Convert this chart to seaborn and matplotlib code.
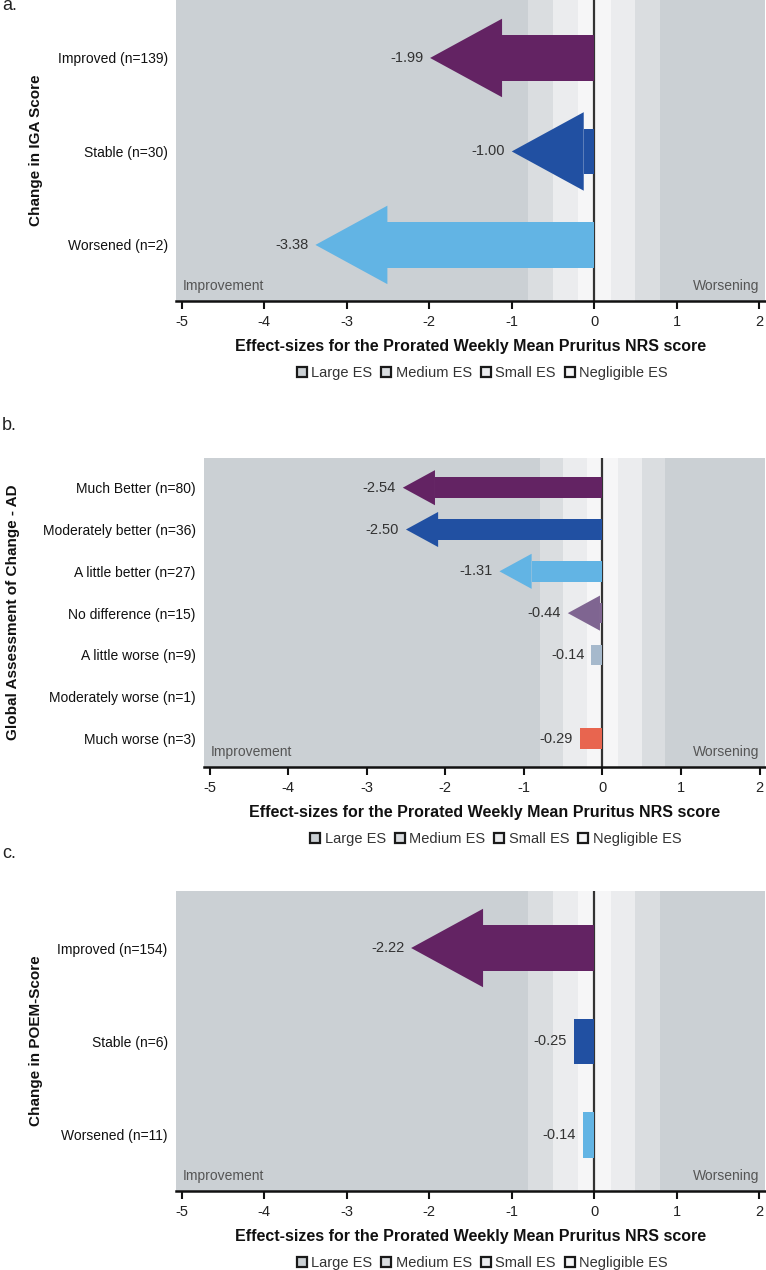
import numpy as np
import pandas as pd
import seaborn as sns
import matplotlib.pyplot as plt
from matplotlib.patches import Patch, Polygon

# Panel a: change in IGA score
iga_labels = ['Improved (n=139)', 'Stable (n=30)', 'Worsened (n=2)']
iga_es = [-1.99, -1.00, -3.38]

# Panel b: global assessment of change
gac_labels = ['Much Better (n=80)', 'Moderately better (n=36)', 'A little better (n=27)',
              'No difference (n=15)', 'A little worse (n=9)', 'Moderately worse (n=1)',
              'Much worse (n=3)']
gac_es = [-2.54, -2.50, -1.31, -0.44, -0.14, np.nan, -0.29]

# Panel c: change in POEM score
poem_labels = ['Improved (n=154)', 'Stable (n=6)', 'Worsened (n=11)']
poem_es = [-2.22, -0.25, -0.14]

# effect size bands
es_names = ['Large ES', 'Medium ES', 'Small ES', 'Negligible ES']
es_bounds = [0.8, 0.5, 0.2]

three_colors = ['#632363', '#2150a2', '#62b4e4']
seven_colors = ['#632363', '#2150a2', '#62b4e4', '#7f6591', '#a6b9cc', '#cccccc', '#e8654f']
band_colors = ['#cbd0d4', '#dadde0', '#ebecee', '#f6f6f7']

XLABEL = 'Effect-sizes for the Prorated Weekly Mean Pruritus NRS score'

sns.set_theme(style='white')
plt.rcParams['font.family'] = ['Liberation Sans', 'DejaVu Sans']
plt.rcParams['axes.unicode_minus'] = False

W, H = 766, 1270
fig = plt.figure(figsize=(W / 100, H / 100), dpi=100)


def draw_panel(rect, labels, es, colors, ylabel, ylim, ylabel_x):
    left, top, width, height = rect
    ax = fig.add_axes([left / W, 1 - (top + height) / H, width / W, height / H])
    xlim = (-5.07, 2.07)
    ax.set_xlim(xlim)
    ax.set_ylim(ylim)

    # background bands
    ax.axvspan(-10, 10, color=band_colors[0], lw=0, zorder=0)
    for b, c in zip(es_bounds, band_colors[1:]):
        ax.axvspan(-b, b, color=c, lw=0, zorder=0)
    ax.axvline(0, color='#333333', lw=1.6, zorder=1)

    # arrow head size, follows the row pitch in pixels
    row_px = height / abs(ylim[0] - ylim[1])
    unit_px = width / (xlim[1] - xlim[0])
    head_len = 0.77 * row_px / unit_px
    head_h = 0.84

    df = pd.DataFrame({'group': labels, 'es': es})
    df['shaft'] = np.where(df['es'].abs() >= head_len, df['es'] + head_len, df['es'])
    df['shaft'] = df['shaft'].fillna(0)

    sns.barplot(data=df, x='shaft', y='group', hue='group', order=labels,
                hue_order=labels, palette=colors, legend=False, dodge=False,
                orient='h', width=0.49, saturation=1, errorbar=None,
                linewidth=0, zorder=3, ax=ax)

    for i, (v, c) in enumerate(zip(es, colors)):
        if np.isnan(v):
            continue
        if abs(v) >= head_len:
            ax.add_patch(Polygon([(v + head_len, i - head_h / 2), (v, i),
                                  (v + head_len, i + head_h / 2)],
                                 closed=True, facecolor=c, lw=0, zorder=3))
        ax.annotate(f'{v:.2f}', xy=(v, i), xytext=(-5, 0), textcoords='offset points',
                    ha='right', va='center', fontsize=10.5, color='#333333')

    ax.set_xlim(xlim)
    ax.set_ylim(ylim)
    ax.set_xticks(range(-5, 3))

    for s in ['left', 'top', 'right']:
        ax.spines[s].set_visible(False)
    ax.spines['bottom'].set_color('#111111')
    ax.spines['bottom'].set_linewidth(1.8)
    ax.tick_params(axis='x', direction='out', length=6, width=1.5, color='#111111',
                   pad=4, labelsize=10.5, labelcolor='#222222', bottom=True)
    ax.tick_params(axis='y', length=0, pad=6, labelsize=10, labelcolor='#111111')

    ax.set_xlabel(XLABEL, fontsize=11.5, fontweight='bold', labelpad=7, color='#111111')
    ax.set_ylabel(ylabel, fontsize=11, fontweight='bold', color='#111111')
    ax.yaxis.set_label_coords(ylabel_x, 0.5)

    ax.annotate('Improvement', xy=(0, 0), xycoords='axes fraction', xytext=(7, 11),
                textcoords='offset pixels', ha='left', va='baseline',
                fontsize=10, color='#555555')
    ax.annotate('Worsening', xy=(1, 0), xycoords='axes fraction', xytext=(-6, 11),
                textcoords='offset pixels', ha='right', va='baseline',
                fontsize=10, color='#555555')

    handles = [Patch(facecolor=c, edgecolor='#1a1a1a', linewidth=1.6, label=n)
               for c, n in zip(band_colors, es_names)]
    ax.legend(handles=handles, loc='center', bbox_to_anchor=(0.52, -72 / height),
              ncol=4, frameon=False, fontsize=10.5, handlelength=0.7,
              handleheight=0.7, handletextpad=0.3, columnspacing=0.6,
              labelcolor='#333333')
    return ax


draw_panel((176, 0, 589, 301), iga_labels, iga_es, three_colors,
           'Change in IGA Score', (2.6, -0.62), -0.226)
draw_panel((204, 458, 561, 309), gac_labels, gac_es, seven_colors,
           'Global Assessment of Change - AD', (6.68, -0.71), -0.328)
draw_panel((176, 891, 589, 300), poem_labels, poem_es, three_colors,
           'Change in POEM-Score', (2.6, -0.61), -0.226)

for lab, y in [('a.', 6), ('b.', 426), ('c.', 853)]:
    fig.text(2 / W, 1 - y / H, lab, fontsize=13, color='#222222', va='center', ha='left')

fig.savefig('out.png', dpi=100)
